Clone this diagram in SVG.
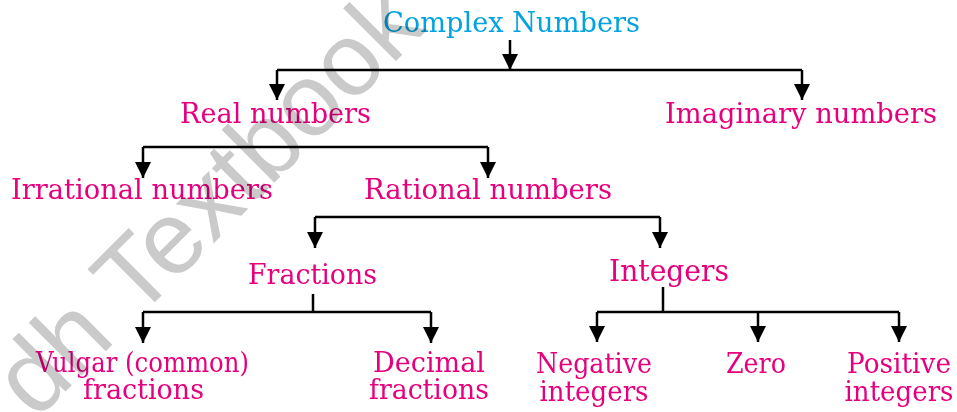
<svg xmlns="http://www.w3.org/2000/svg" width="957" height="412" viewBox="0 0 957 412">
<style>
.t{font-family:"DejaVu Serif","Liberation Serif",serif;font-size:27px;fill:#E6007E;text-anchor:middle}
.c{fill:#00A3E0}
.ln{fill:none;stroke:#000;stroke-width:2.5}
.ar{marker-end:url(#ah)}
.wm{font-family:"Liberation Sans",Arial,sans-serif;font-size:103px;fill:#cacaca;mix-blend-mode:multiply}
</style>
<defs>
<marker id="ah" viewBox="0 0 16 16" refX="16" refY="8" markerWidth="16" markerHeight="16" markerUnits="userSpaceOnUse" orient="auto">
<path d="M0,0 L16,8 L0,16 z" fill="#000"/>
</marker>
</defs>
<rect width="957" height="412" fill="#fff"/>
<g id="connectors">
<path class="ln ar" d="M510,40 V70"/>
<path class="ln" d="M277,70 H802"/>
<path class="ln ar" d="M277,70 V100"/>
<path class="ln ar" d="M802,70 V100"/>
<path class="ln" d="M143,147 H488"/>
<path class="ln ar" d="M143,147 V178"/>
<path class="ln ar" d="M488,147 V178"/>
<path class="ln" d="M315,217 H660"/>
<path class="ln ar" d="M315,217 V248"/>
<path class="ln ar" d="M660,217 V248"/>
<path class="ln" d="M313,294 V312"/>
<path class="ln" d="M143,312 H431"/>
<path class="ln ar" d="M143,312 V343"/>
<path class="ln ar" d="M431,312 V343"/>
<path class="ln" d="M663,287 V312"/>
<path class="ln" d="M597,312 H899"/>
<path class="ln ar" d="M597,312 V342"/>
<path class="ln ar" d="M758,312 V342"/>
<path class="ln ar" d="M899,312 V342"/>
</g>
<g id="complex"><text class="t c" x="511.5" y="32" textLength="257" lengthAdjust="spacingAndGlyphs">Complex Numbers</text></g>
<g id="real"><text class="t" x="275.5" y="123" textLength="191" lengthAdjust="spacingAndGlyphs">Real numbers</text></g>
<g id="imaginary"><text class="t" x="801" y="123" textLength="272" lengthAdjust="spacingAndGlyphs">Imaginary numbers</text></g>
<g id="irrational"><text class="t" x="142" y="199" textLength="262" lengthAdjust="spacingAndGlyphs">Irrational numbers</text></g>
<g id="rational"><text class="t" x="488" y="199" textLength="248" lengthAdjust="spacingAndGlyphs">Rational numbers</text></g>
<g id="fractions"><text class="t" x="312.5" y="284" textLength="129" lengthAdjust="spacingAndGlyphs">Fractions</text></g>
<g id="integers"><text class="t" x="669" y="281" style="font-size:29px" textLength="120" lengthAdjust="spacingAndGlyphs">Integers</text></g>
<g id="vulgar">
<text class="t" x="142.5" y="372" textLength="213" lengthAdjust="spacingAndGlyphs">Vulgar (common)</text>
<text class="t" x="143.5" y="399" textLength="121" lengthAdjust="spacingAndGlyphs">fractions</text>
</g>
<g id="decimal">
<text class="t" x="429" y="372" textLength="112" lengthAdjust="spacingAndGlyphs">Decimal</text>
<text class="t" x="429" y="399" textLength="120" lengthAdjust="spacingAndGlyphs">fractions</text>
</g>
<g id="negative">
<text class="t" x="594" y="373" textLength="116" lengthAdjust="spacingAndGlyphs">Negative</text>
<text class="t" x="594" y="401" textLength="109" lengthAdjust="spacingAndGlyphs">integers</text>
</g>
<g id="zero"><text class="t" x="756" y="373" textLength="60" lengthAdjust="spacingAndGlyphs">Zero</text></g>
<g id="positive">
<text class="t" x="899" y="373" textLength="104" lengthAdjust="spacingAndGlyphs">Positive</text>
<text class="t" x="899" y="401" textLength="109" lengthAdjust="spacingAndGlyphs">integers</text>
</g>
<text class="wm" transform="translate(36,421) rotate(-45)">dh Textbook</text>
</svg>
